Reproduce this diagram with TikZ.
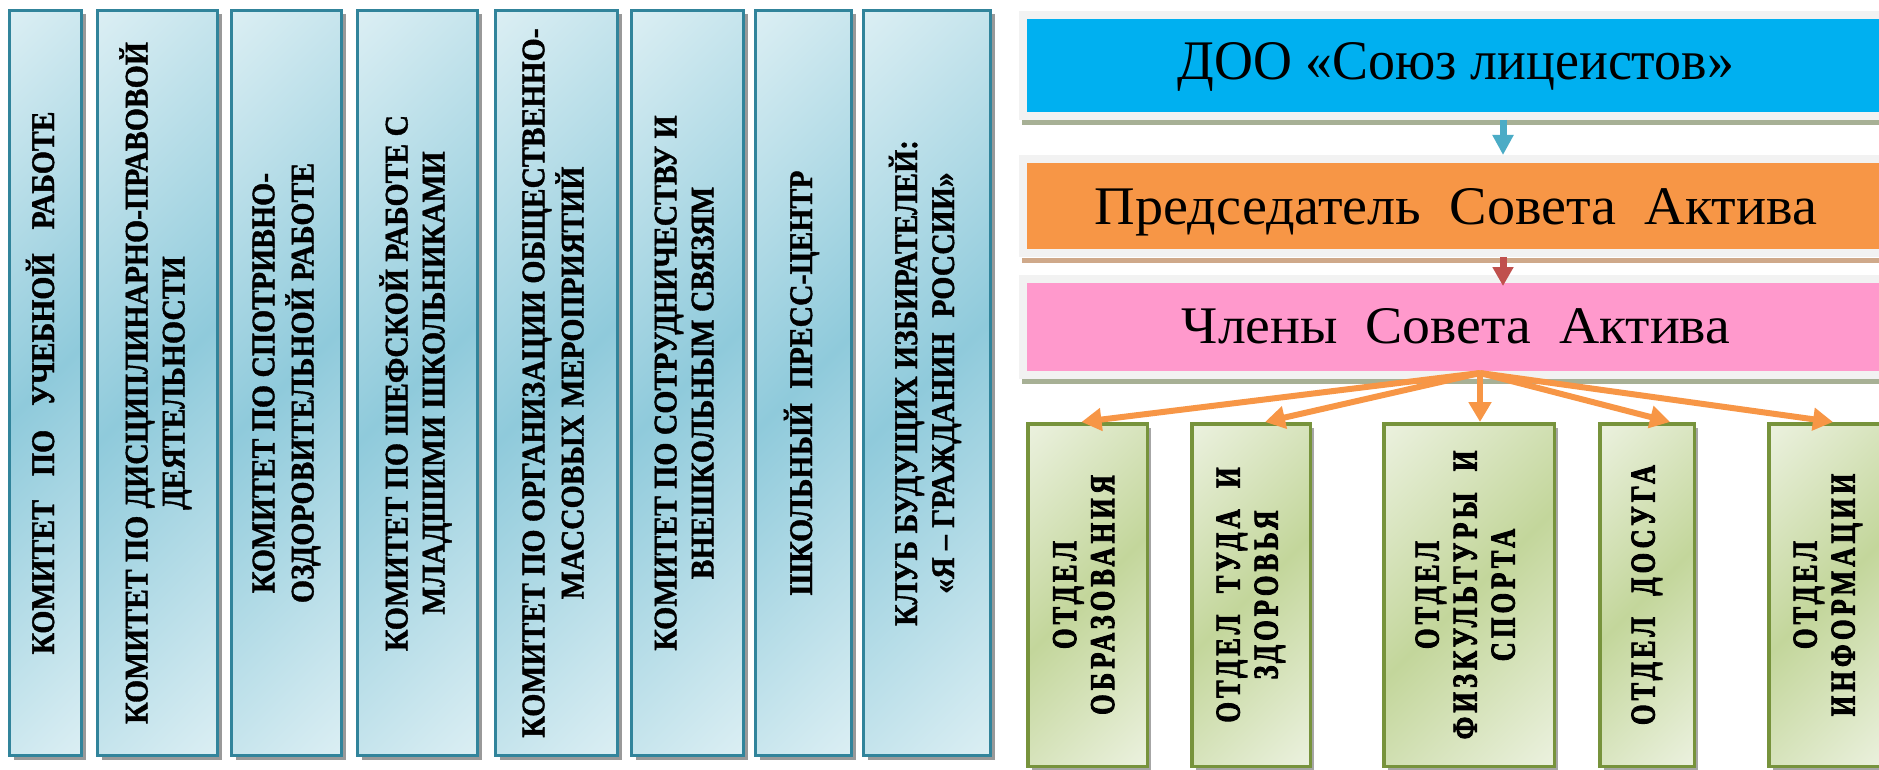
\documentclass[tikz,border=0pt]{standalone}
\usepackage{fontspec}
\usepackage{graphicx}
\setmainfont{Liberation Serif}
\newfontfamily\lfont[FakeStretch=0.9,FakeBold=1.2]{Liberation Serif}
\newfontfamily\gfont[FakeStretch=0.75,LetterSpace=12,FakeBold=2.5]{Liberation Serif}
\usetikzlibrary{arrows.meta,shadows}
\definecolor{tealb}{HTML}{31849B}
\definecolor{tlight}{HTML}{DAEEF3}
\definecolor{tdark}{HTML}{8FCADB}
\definecolor{olivec}{HTML}{77933C}
\definecolor{glight}{HTML}{EBF1DE}
\definecolor{gdark}{HTML}{C3D69B}
\definecolor{dooblue}{HTML}{00B0F0}
\definecolor{orng}{HTML}{F79646}
\definecolor{pnk}{HTML}{FF99CC}
\definecolor{frm}{HTML}{F2F2F2}
\definecolor{shgreen}{HTML}{A7B095}
\definecolor{shtan}{HTML}{CFA98A}
\definecolor{blarrow}{HTML}{4BACC6}
\definecolor{rdarrow}{HTML}{C0504D}
\pgfdeclarehorizontalshading{tealshade}{100bp}{color(0bp)=(tlight); color(15bp)=(tlight); color(50bp)=(tdark); color(85bp)=(tlight); color(100bp)=(tlight)}
\pgfdeclarehorizontalshading{greenshade}{100bp}{color(0bp)=(glight); color(15bp)=(glight); color(50bp)=(gdark); color(85bp)=(glight); color(100bp)=(glight)}
\newcommand{\rtext}[1]{\rotatebox{90}{\begin{tabular}{@{}c@{}}#1\end{tabular}}}
\newcommand{\wgap}{\hspace{24pt}}
\tikzset{
  lbox/.style={draw=tealb, line width=3pt, shading=tealshade, shading angle=-45,
    drop shadow={shadow xshift=4pt,shadow yshift=-4pt,fill=black!40,opacity=1},
    inner sep=0pt, minimum height=745pt,
    font=\lfont\bfseries\fontsize{33}{37}\selectfont},
  gbox/.style={draw=olivec, line width=3.5pt, shading=greenshade, shading angle=-45,
    drop shadow={shadow xshift=4pt,shadow yshift=-4pt,fill=black!35,opacity=1},
    inner sep=0pt, minimum height=342.5pt,
    font=\gfont\bfseries\fontsize{35}{38}\selectfont},
  topbox/.style={draw=frm, line width=8pt, inner sep=0pt, minimum width=866pt},
  blarr/.style={draw=blarrow, line width=7pt, -{Triangle[length=20pt,width=20pt]}},
  rdarr/.style={draw=rdarrow, line width=7pt, -{Triangle[length=19pt,width=20pt]}},
  farr/.style={draw=orng, line width=6pt, -{Triangle[length=20pt,width=22pt]}}
}
\begin{document}
\begin{tikzpicture}[x=1pt,y=-1pt]
\useasboundingbox (0,0) rectangle (1879,770);
\fill[white] (0,0) rectangle (1879,770);
% left committees
\node[lbox, minimum width=72pt]  (l1) at (45.5,383)  {\rtext{КОМИТЕТ\wgap ПО\wgap УЧЕБНОЙ\wgap РАБОТЕ}};
\node[lbox, minimum width=120pt] (l2) at (157.5,383) {\rtext{КОМИТЕТ ПО ДИСЦИПЛИНАРНО-ПРАВОВОЙ\\ДЕЯТЕЛЬНОСТИ}};
\node[lbox, minimum width=110pt] (l3) at (286.5,383) {\rtext{КОМИТЕТ ПО СПОТРИВНО-\\ОЗДОРОВИТЕЛЬНОЙ РАБОТЕ}};
\node[lbox, minimum width=120pt] (l4) at (417.5,383) {\rtext{КОМИТЕТ ПО ШЕФСКОЙ РАБОТЕ С\\МЛАДШИМИ ШКОЛЬНИКАМИ}};
\node[lbox, minimum width=122pt] (l5) at (556.5,383) {\rtext{КОМИТЕТ ПО ОРГАНИЗАЦИИ ОБЩЕСТВЕННО-\\МАССОВЫХ МЕРОПРИЯТИЙ}};
\node[lbox, minimum width=112pt] (l6) at (687.5,383) {\rtext{КОМИТЕТ ПО СОТРУДНИЧЕСТВУ И\\ВНЕШКОЛЬНЫМ СВЯЗЯМ}};
\node[lbox, minimum width=96pt]  (l7) at (803.5,383) {\rtext{ШКОЛЬНЫЙ\ \ ПРЕСС-ЦЕНТР}};
\node[lbox, minimum width=127pt] (l8) at (927,383)   {\rtext{КЛУБ БУДУЩИХ ИЗБИРАТЕЛЕЙ:\\«Я – ГРАЖДАНИН\ \ РОССИИ»}};
% shadow lines under top boxes
\fill[shgreen] (1022,120) rectangle (1895,125);
\fill[shtan]   (1022,258) rectangle (1895,263);
\fill[shgreen] (1022,379) rectangle (1895,384);
% top boxes
\node[topbox, fill=dooblue, minimum height=101pt, text height=37pt, text depth=8pt] (doo) at (1456,65.5)
  {\resizebox{556pt}{37pt}{ДОО «Союз лицеистов»}};
\node[topbox, fill=orng, minimum height=94pt, text height=36pt, text depth=0pt] (pres) at (1456,206)
  {\resizebox{722pt}{36pt}{Председатель\ \ Совета\ \ Актива}};
\node[topbox, fill=pnk, minimum height=96pt, text height=35pt, text depth=3pt] (pink) at (1456,327)
  {\resizebox{548pt}{35pt}{Члены\ \ Совета\ \ Актива}};
% departments
\node[gbox, minimum width=119.5pt] (ga) at (1087.5,595) {\rtext{ОТДЕЛ\\ОБРАЗОВАНИЯ}};
\node[gbox, minimum width=118.5pt] (gb) at (1251,595)   {\rtext{ОТДЕЛ\ \ ТУДА\ \ И\\ЗДОРОВЬЯ}};
\node[gbox, minimum width=170.5pt] (gc) at (1469,595)   {\rtext{ОТДЕЛ\\ФИЗКУЛЬТУРЫ\ \ И\\СПОРТА}};
\node[gbox, minimum width=94.5pt]  (gd) at (1647,595)   {\rtext{ОТДЕЛ\ \ ДОСУГА}};
\node[gbox, minimum width=118.5pt] (ge) at (1828,595)   {\rtext{ОТДЕЛ\\ИНФОРМАЦИИ}};
% connectors
\coordinate (ax) at (1503,0);
\coordinate (fan) at (1480,373);
\draw[blarr] (doo.south -| ax) -- (pres.north -| ax);
\draw[rdarr, shorten >=-11pt] (pres.south -| ax) -- (pink.north -| ax);
\draw[farr] (fan) -- ([xshift=-6pt]ga.north);
\draw[farr] (fan) -- ([xshift=14pt]gb.north);
\draw[farr] (fan) -- ([xshift=11pt]gc.north);
\draw[farr] (fan) -- ([xshift=23pt]gd.north);
\draw[farr] (fan) -- ([xshift=5pt]ge.north);
\end{tikzpicture}
\end{document}
